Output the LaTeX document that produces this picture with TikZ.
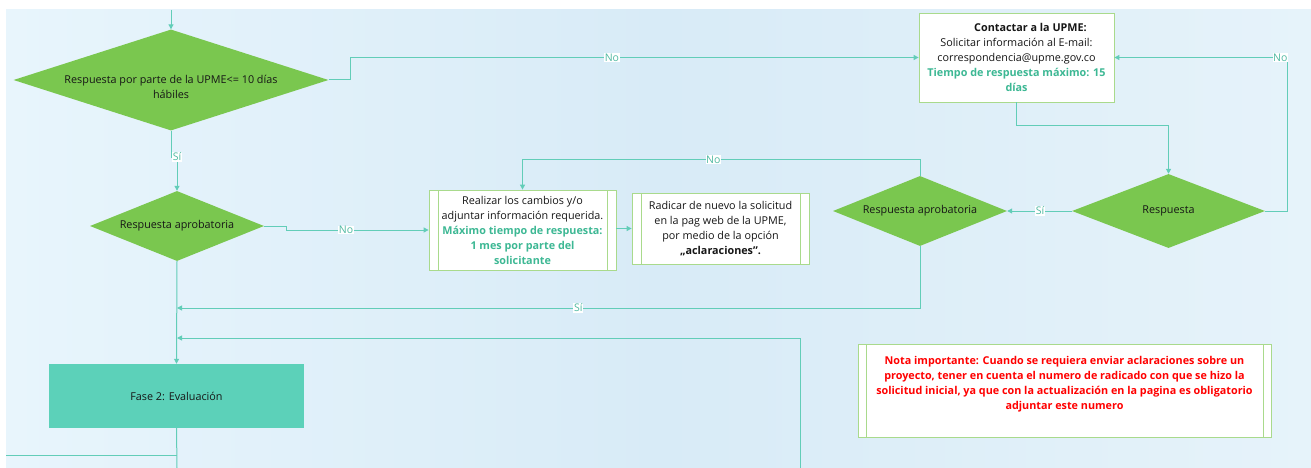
\documentclass[tikz,border=0pt]{standalone}
\usepackage{fontspec}
\setmainfont{Open Sans}
\usetikzlibrary{shapes.geometric,arrows.meta,calc}
\definecolor{bgL}{HTML}{E8F5FC}
\definecolor{bgM}{HTML}{D8EBF7}
\definecolor{bgR}{HTML}{E6F3FA}
\definecolor{dia}{HTML}{7AC74F}
\definecolor{lnc}{HTML}{62CDB8}
\definecolor{tealtxt}{HTML}{3DB894}
\definecolor{boxedge}{HTML}{A9DA8C}
\definecolor{fase}{HTML}{5CD1B9}
\definecolor{txtc}{HTML}{161616}
\definecolor{lblc}{HTML}{4FB9A1}
\definecolor{notered}{HTML}{FF0000}
\tikzset{
  decision/.style={diamond, fill=dia, draw=none, inner sep=0pt},
  dtext/.style={text=txtc, align=center, inner sep=0pt},
  conn/.style={draw=lnc, line width=1pt, -{Triangle[length=5pt,width=5pt]}},
  plainln/.style={draw=lnc, line width=1pt},
  lbl/.style={fill=white, text=lblc, inner sep=0.6pt, font=\fontsize{10.5}{11}\selectfont},
  procbox/.style={rectangle, draw=boxedge, fill=white, line width=0.8pt, inner sep=0pt, text=txtc, align=center,
    path picture={\draw[boxedge, line width=0.8pt]
      ([xshift=#1]path picture bounding box.north west) -- ([xshift=#1]path picture bounding box.south west)
      ([xshift=-#1]path picture bounding box.north east) -- ([xshift=-#1]path picture bounding box.south east);}},
  plainbox/.style={rectangle, draw=boxedge, fill=white, line width=0.8pt, inner sep=0pt, text=txtc, align=center},
}
\begin{document}
\begin{tikzpicture}[x=1pt,y=-1pt, font=\fontsize{10.8}{15}\selectfont]
\useasboundingbox (0,0) rectangle (1311,468);
\fill[white] (0,0) rectangle (1311,468);
\shade[left color=bgL, right color=bgR, middle color=bgM] (6,10) rectangle (1311,468);

% decisions
\node[decision, minimum width=315pt, minimum height=101pt] (d1) at (171,80) {};
\node[dtext] (d1t) at ([yshift=-7pt]d1.center) {Respuesta por parte de la UPME<= 10 días\\hábiles};
\node[decision, minimum width=174pt, minimum height=70pt] (d2) at (177,226) {};
\node[dtext] (d2t) at (d2.center) {Respuesta aprobatoria};
\node[decision, minimum width=174pt, minimum height=70pt] (d3) at (920,211) {};
\node[dtext] (d3t) at (d3.center) {Respuesta aprobatoria};
\node[decision, minimum width=193pt, minimum height=74pt] (d4) at (1168.5,211) {};
\node[dtext] (d4t) at (d4.center) {Respuesta};

% boxes
\node[plainbox, minimum width=195pt, minimum height=89pt] (c) at (1016.5,57.5)
  {\hspace*{28pt}\textbf{Contactar a la UPME:}\\Solicitar información al E-mail:\\correspondencia@upme.gov.co\\
   {\color{tealtxt}\bfseries Tiempo de respuesta máximo: 15}\\{\color{tealtxt}\bfseries días}};
\node[procbox=9pt, minimum width=187pt, minimum height=80pt] (b1) at (522.5,230)
  {Realizar los cambios y/o\\adjuntar información requerida.\\
   {\color{tealtxt}\bfseries Máximo tiempo de respuesta:}\\{\color{tealtxt}\bfseries 1 mes por parte del}\\{\color{tealtxt}\bfseries solicitante}};
\node[procbox=9pt, minimum width=177pt, minimum height=71pt] (b2) at (720.5,228.5)
  {Radicar de nuevo la solicitud\\en la pag web de la UPME,\\por medio de la opción\\\textbf{„aclaraciones”.}};
\node[rectangle, fill=fase, draw=none, minimum width=255pt, minimum height=64pt, text=txtc] (f) at (176.5,396) {Fase 2: Evaluación};
\node[procbox=8pt, minimum width=413pt, minimum height=93pt] (n) at (1064.5,390.5) {};
\node[anchor=north, text=notered, align=center, inner sep=0pt, font=\fontsize{10.8}{15.3}\selectfont\bfseries] (nt) at ([yshift=-12pt]n.north)
  {Nota importante: Cuando se requiera enviar aclaraciones sobre un\\proyecto, tener en cuenta el numero de radicado con que se hizo la\\solicitud inicial, ya que con la actualización en la pagina es obligatorio\\adjuntar este numero};

% coordinates
\coordinate (in0) at (171,10);
\coordinate (j1) at (177,308);
\coordinate (j2) at (177,338);
\coordinate (e2) at (800,468);
\coordinate (fout) at (177,468);
\coordinate (lin) at (6,455);
\coordinate (lmeet) at (177,455);

% connectors
\draw[conn] (in0) -- (d1.north);
\draw[conn] (d1.east) -- ++(22,0) |- (c.west) node[lbl, pos=0.73] {No};
\draw[conn] (d1.south) -- (171,157) -- (177,157) -- (d2.north);
\node[lbl] (s1) at (177,157) {Sí};
\draw[conn] (d2.east) -- ++(22,0) |- (b1.west) node[lbl, pos=0.71] {No};
\draw[conn] (b1.east |- b2.west) -- (b2.west);
\draw[conn] (d3.north) -- ++(0,-16) -| (b1.north) node[lbl, pos=0.26] {No};
\draw[conn] (d3.south) |- (j1) node[lbl, pos=0.73] {Sí};
\draw[conn] (e2) |- (j2);
\draw[conn] (d2.south) -- (f.north);
\draw[plainln] (f.south) -- (fout);
\draw[plainln] (lin) -- (lmeet);
\draw[conn] (c.south) -- ++(0,23) -| (d4.north);
\draw[conn] (d4.west) -- (d3.east) node[lbl, pos=0.49] {Sí};
\draw[conn] (d4.east) -- ++(22,0) |- (c.east) node[lbl, pos=0.52] {No};
\end{tikzpicture}
\end{document}
